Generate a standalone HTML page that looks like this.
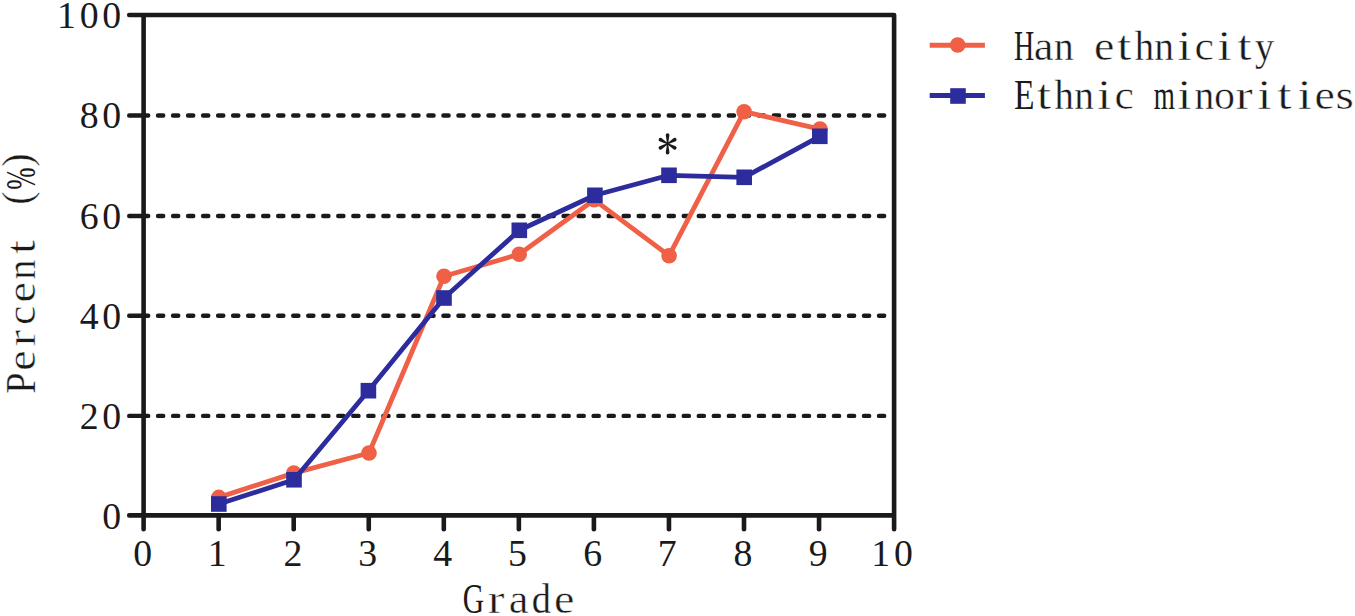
<!DOCTYPE html><html><head><meta charset="utf-8"><title>chart</title><style>html,body{margin:0;padding:0;background:#fff;width:1355px;height:616px;overflow:hidden}svg{display:block}</style></head><body>
<svg width="1355" height="616" viewBox="0 0 1355 616">
<rect width="1355" height="616" fill="#fff"/>
<line x1="143" y1="415.90" x2="888" y2="415.90" stroke="#1a1a1a" stroke-width="4.4" stroke-linecap="round" stroke-dasharray="5.2 9.82"/>
<line x1="143" y1="315.80" x2="888" y2="315.80" stroke="#1a1a1a" stroke-width="4.4" stroke-linecap="round" stroke-dasharray="5.2 9.82"/>
<line x1="143" y1="216.00" x2="888" y2="216.00" stroke="#1a1a1a" stroke-width="4.4" stroke-linecap="round" stroke-dasharray="5.2 9.82"/>
<line x1="143" y1="115.50" x2="888" y2="115.50" stroke="#1a1a1a" stroke-width="4.4" stroke-linecap="round" stroke-dasharray="5.2 9.82"/>
<path d="M129.2 15.00 H894.10 V529.2 M143.60 15.00 V529.2 M129.2 515.40 H894.10" fill="none" stroke="#1a1a1a" stroke-width="4.6" stroke-linecap="round" stroke-linejoin="round"/>
<line x1="129.2" y1="415.90" x2="143.60" y2="415.90" stroke="#1a1a1a" stroke-width="4.4" stroke-linecap="round"/>
<line x1="129.2" y1="315.80" x2="143.60" y2="315.80" stroke="#1a1a1a" stroke-width="4.4" stroke-linecap="round"/>
<line x1="129.2" y1="216.00" x2="143.60" y2="216.00" stroke="#1a1a1a" stroke-width="4.4" stroke-linecap="round"/>
<line x1="129.2" y1="115.50" x2="143.60" y2="115.50" stroke="#1a1a1a" stroke-width="4.4" stroke-linecap="round"/>
<line x1="218.65" y1="515.40" x2="218.65" y2="529.2" stroke="#1a1a1a" stroke-width="4.6" stroke-linecap="round"/>
<line x1="293.70" y1="515.40" x2="293.70" y2="529.2" stroke="#1a1a1a" stroke-width="4.6" stroke-linecap="round"/>
<line x1="368.75" y1="515.40" x2="368.75" y2="529.2" stroke="#1a1a1a" stroke-width="4.6" stroke-linecap="round"/>
<line x1="443.80" y1="515.40" x2="443.80" y2="529.2" stroke="#1a1a1a" stroke-width="4.6" stroke-linecap="round"/>
<line x1="518.85" y1="515.40" x2="518.85" y2="529.2" stroke="#1a1a1a" stroke-width="4.6" stroke-linecap="round"/>
<line x1="593.90" y1="515.40" x2="593.90" y2="529.2" stroke="#1a1a1a" stroke-width="4.6" stroke-linecap="round"/>
<line x1="668.95" y1="515.40" x2="668.95" y2="529.2" stroke="#1a1a1a" stroke-width="4.6" stroke-linecap="round"/>
<line x1="744.00" y1="515.40" x2="744.00" y2="529.2" stroke="#1a1a1a" stroke-width="4.6" stroke-linecap="round"/>
<line x1="819.05" y1="515.40" x2="819.05" y2="529.2" stroke="#1a1a1a" stroke-width="4.6" stroke-linecap="round"/>
<text x="102.34" y="529.00" font-family="Liberation Serif, serif" font-size="37.8" fill="#1a1a1a">0</text>
<text x="79.64 102.34" y="428.80" font-family="Liberation Serif, serif" font-size="37.8" fill="#1a1a1a">20</text>
<text x="79.64 102.34" y="328.70" font-family="Liberation Serif, serif" font-size="37.8" fill="#1a1a1a">40</text>
<text x="79.64 102.34" y="228.90" font-family="Liberation Serif, serif" font-size="37.8" fill="#1a1a1a">60</text>
<text x="79.64 102.34" y="128.40" font-family="Liberation Serif, serif" font-size="37.8" fill="#1a1a1a">80</text>
<text x="56.94 79.64 102.34" y="27.90" font-family="Liberation Serif, serif" font-size="37.8" fill="#1a1a1a">100</text>
<text x="133.15" y="566.30" font-family="Liberation Serif, serif" font-size="37.8" fill="#1a1a1a">0</text>
<text x="207.67" y="566.30" font-family="Liberation Serif, serif" font-size="37.8" fill="#1a1a1a">1</text>
<text x="283.46" y="566.30" font-family="Liberation Serif, serif" font-size="37.8" fill="#1a1a1a">2</text>
<text x="358.13" y="566.30" font-family="Liberation Serif, serif" font-size="37.8" fill="#1a1a1a">3</text>
<text x="433.28" y="566.30" font-family="Liberation Serif, serif" font-size="37.8" fill="#1a1a1a">4</text>
<text x="508.04" y="566.30" font-family="Liberation Serif, serif" font-size="37.8" fill="#1a1a1a">5</text>
<text x="583.20" y="566.30" font-family="Liberation Serif, serif" font-size="37.8" fill="#1a1a1a">6</text>
<text x="657.80" y="566.30" font-family="Liberation Serif, serif" font-size="37.8" fill="#1a1a1a">7</text>
<text x="733.55" y="566.30" font-family="Liberation Serif, serif" font-size="37.8" fill="#1a1a1a">8</text>
<text x="808.77" y="566.30" font-family="Liberation Serif, serif" font-size="37.8" fill="#1a1a1a">9</text>
<text x="871.36 894.06" y="566.30" font-family="Liberation Serif, serif" font-size="37.8" fill="#1a1a1a">10</text>
<g font-family="Liberation Serif, serif" font-size="42.6" fill="#1a1a1a" stroke="#fff" stroke-width="0">
<text transform="translate(1024.00 59.50) scale(0.657 1)" x="-15.37" y="0" font-size="42.6">H</text>
<text transform="translate(1044.05 59.50) scale(1.046 1)" x="-9.91" y="0" font-size="42.6" stroke="#fff" stroke-width="0.50">a</text>
<text transform="translate(1064.10 59.50) scale(0.925 1)" x="-10.82" y="0" font-size="42.6" stroke="#fff" stroke-width="0.40">n</text>
<text transform="translate(1104.20 59.50) scale(1.078 1)" x="-9.55" y="0" font-size="42.6" stroke="#fff" stroke-width="0.50">e</text>
<text transform="translate(1124.25 59.50) scale(1.220 1)" x="-6.00" y="0" font-size="42.6" stroke="#fff" stroke-width="0.50">t</text>
<text transform="translate(1144.30 59.50) scale(0.905 1)" x="-10.58" y="0" font-size="42.6" stroke="#fff" stroke-width="0.32">h</text>
<text transform="translate(1164.35 59.50) scale(0.925 1)" x="-10.82" y="0" font-size="42.6" stroke="#fff" stroke-width="0.40">n</text>
<text transform="translate(1184.40 59.50) scale(1.220 1)" x="-5.96" y="0" font-size="42.6" stroke="#fff" stroke-width="0.50">i</text>
<text transform="translate(1204.45 59.50) scale(1.027 1)" x="-9.61" y="0" font-size="42.6" stroke="#fff" stroke-width="0.50">c</text>
<text transform="translate(1224.50 59.50) scale(1.220 1)" x="-5.96" y="0" font-size="42.6" stroke="#fff" stroke-width="0.50">i</text>
<text transform="translate(1244.55 59.50) scale(1.220 1)" x="-6.00" y="0" font-size="42.6" stroke="#fff" stroke-width="0.50">t</text>
<text transform="translate(1264.60 59.50) scale(0.897 1)" x="-10.83" y="0" font-size="42.6" stroke="#fff" stroke-width="0.29">y</text>
<text transform="translate(1024.00 109.20) scale(0.789 1)" x="-12.56" y="0" font-size="42.6">E</text>
<text transform="translate(1044.05 109.20) scale(1.220 1)" x="-6.00" y="0" font-size="42.6" stroke="#fff" stroke-width="0.50">t</text>
<text transform="translate(1064.10 109.20) scale(0.905 1)" x="-10.58" y="0" font-size="42.6" stroke="#fff" stroke-width="0.32">h</text>
<text transform="translate(1084.15 109.20) scale(0.925 1)" x="-10.82" y="0" font-size="42.6" stroke="#fff" stroke-width="0.40">n</text>
<text transform="translate(1104.20 109.20) scale(1.220 1)" x="-5.96" y="0" font-size="42.6" stroke="#fff" stroke-width="0.50">i</text>
<text transform="translate(1124.25 109.20) scale(1.027 1)" x="-9.61" y="0" font-size="42.6" stroke="#fff" stroke-width="0.50">c</text>
<text transform="translate(1164.35 109.20) scale(0.637 1)" x="-16.68" y="0" font-size="42.6">m</text>
<text transform="translate(1184.40 109.20) scale(1.220 1)" x="-5.96" y="0" font-size="42.6" stroke="#fff" stroke-width="0.50">i</text>
<text transform="translate(1204.45 109.20) scale(0.925 1)" x="-10.82" y="0" font-size="42.6" stroke="#fff" stroke-width="0.40">n</text>
<text transform="translate(1224.50 109.20) scale(0.986 1)" x="-10.65" y="0" font-size="42.6" stroke="#fff" stroke-width="0.50">o</text>
<text transform="translate(1244.55 109.20) scale(1.220 1)" x="-7.33" y="0" font-size="42.6" stroke="#fff" stroke-width="0.50">r</text>
<text transform="translate(1264.60 109.20) scale(1.220 1)" x="-5.96" y="0" font-size="42.6" stroke="#fff" stroke-width="0.50">i</text>
<text transform="translate(1284.65 109.20) scale(1.220 1)" x="-6.00" y="0" font-size="42.6" stroke="#fff" stroke-width="0.50">t</text>
<text transform="translate(1304.70 109.20) scale(1.220 1)" x="-5.96" y="0" font-size="42.6" stroke="#fff" stroke-width="0.50">i</text>
<text transform="translate(1324.75 109.20) scale(1.078 1)" x="-9.55" y="0" font-size="42.6" stroke="#fff" stroke-width="0.50">e</text>
<text transform="translate(1344.80 109.20) scale(1.106 1)" x="-8.39" y="0" font-size="42.6" stroke="#fff" stroke-width="0.50">s</text>
<text transform="translate(473.60 612.90) scale(0.715 1)" x="-15.11" y="0" font-size="41.3">G</text>
<text transform="translate(496.30 612.90) scale(1.220 1)" x="-7.11" y="0" font-size="41.3" stroke="#fff" stroke-width="0.50">r</text>
<text transform="translate(519.00 612.90) scale(1.079 1)" x="-9.61" y="0" font-size="41.3" stroke="#fff" stroke-width="0.50">a</text>
<text transform="translate(541.70 612.90) scale(0.927 1)" x="-10.82" y="0" font-size="41.3" stroke="#fff" stroke-width="0.29">d</text>
<text transform="translate(564.40 612.90) scale(1.112 1)" x="-9.26" y="0" font-size="41.3" stroke="#fff" stroke-width="0.50">e</text>
</g>
<g font-family="Liberation Serif, serif" font-size="42.6" fill="#1a1a1a" stroke="#fff" stroke-width="0" transform="translate(34.8 0) rotate(-90)">
<text transform="translate(-383.20 0.00) scale(0.914 1)" x="-11.25" y="0" font-size="41.3" stroke="#fff" stroke-width="0.24">P</text>
<text transform="translate(-360.48 0.00) scale(1.112 1)" x="-9.26" y="0" font-size="41.3" stroke="#fff" stroke-width="0.50">e</text>
<text transform="translate(-337.76 0.00) scale(1.220 1)" x="-7.11" y="0" font-size="41.3" stroke="#fff" stroke-width="0.50">r</text>
<text transform="translate(-315.04 0.00) scale(1.059 1)" x="-9.32" y="0" font-size="41.3" stroke="#fff" stroke-width="0.50">c</text>
<text transform="translate(-292.32 0.00) scale(1.112 1)" x="-9.26" y="0" font-size="41.3" stroke="#fff" stroke-width="0.50">e</text>
<text transform="translate(-269.60 0.00) scale(0.954 1)" x="-10.49" y="0" font-size="41.3" stroke="#fff" stroke-width="0.39">n</text>
<text transform="translate(-246.88 0.00) scale(1.220 1)" x="-5.82" y="0" font-size="41.3" stroke="#fff" stroke-width="0.50">t</text>
<text transform="translate(-197.94 -3.80) scale(0.971 1)" x="-7.12" y="0" font-size="41.3" stroke="#fff" stroke-width="0.44">(</text>
<text transform="translate(-178.72 0.00) scale(0.649 1)" x="-17.20" y="0" font-size="41.3">%</text>
<text transform="translate(-160.30 -3.80) scale(0.971 1)" x="-6.63" y="0" font-size="41.3" stroke="#fff" stroke-width="0.44">)</text>
</g>
<polyline points="218.80,497.40 293.80,473.10 369.00,453.00 444.00,276.30 519.20,254.30 594.30,199.80 669.10,255.70 744.10,111.70 820.00,129.10" fill="none" stroke="#EF6047" stroke-width="4.8" stroke-linejoin="round"/>
<circle cx="218.80" cy="497.40" r="7.8" fill="#EF6047"/>
<circle cx="293.80" cy="473.10" r="7.8" fill="#EF6047"/>
<circle cx="369.00" cy="453.00" r="7.8" fill="#EF6047"/>
<circle cx="444.00" cy="276.30" r="7.8" fill="#EF6047"/>
<circle cx="519.20" cy="254.30" r="7.8" fill="#EF6047"/>
<circle cx="594.30" cy="199.80" r="7.8" fill="#EF6047"/>
<circle cx="669.10" cy="255.70" r="7.8" fill="#EF6047"/>
<circle cx="744.10" cy="111.70" r="7.8" fill="#EF6047"/>
<circle cx="820.00" cy="129.10" r="7.8" fill="#EF6047"/>
<polyline points="218.80,504.00 294.00,479.75 368.40,390.70 444.00,298.00 519.30,230.30 594.90,195.30 669.00,175.30 744.20,177.30 819.80,136.30" fill="none" stroke="#2C2C9C" stroke-width="4.8" stroke-linejoin="round"/>
<rect x="211.00" y="496.20" width="15.6" height="15.6" fill="#2C2C9C"/>
<rect x="286.20" y="471.95" width="15.6" height="15.6" fill="#2C2C9C"/>
<rect x="360.60" y="382.90" width="15.6" height="15.6" fill="#2C2C9C"/>
<rect x="436.20" y="290.20" width="15.6" height="15.6" fill="#2C2C9C"/>
<rect x="511.50" y="222.50" width="15.6" height="15.6" fill="#2C2C9C"/>
<rect x="587.10" y="187.50" width="15.6" height="15.6" fill="#2C2C9C"/>
<rect x="661.20" y="167.50" width="15.6" height="15.6" fill="#2C2C9C"/>
<rect x="736.40" y="169.50" width="15.6" height="15.6" fill="#2C2C9C"/>
<rect x="812.00" y="128.50" width="15.6" height="15.6" fill="#2C2C9C"/>
<path d="M668.15 143.80 L669.45 135.05 A1.85 1.85 0 0 0 665.75 135.05 L667.05 143.80 Z M667.05 143.80 L665.75 152.55 A1.85 1.85 0 0 0 669.45 152.55 L668.15 143.80 Z M667.88 144.28 L675.67 141.28 A1.85 1.85 0 0 0 673.82 138.07 L667.33 143.32 Z M667.88 143.32 L661.38 138.07 A1.85 1.85 0 0 0 659.53 141.28 L667.33 144.28 Z M667.33 143.32 L659.53 146.32 A1.85 1.85 0 0 0 661.38 149.53 L667.88 144.28 Z M667.33 144.28 L673.82 149.53 A1.85 1.85 0 0 0 675.67 146.32 L667.88 143.32 Z" fill="#1a1a1a"/>
<circle cx="667.6" cy="143.8" r="1.3" fill="#1a1a1a"/>
<line x1="929.7" y1="45.2" x2="984.9" y2="45.2" stroke="#EF6047" stroke-width="5"/>
<circle cx="957.7" cy="45" r="7.8" fill="#EF6047"/>
<line x1="929.7" y1="95.5" x2="984.9" y2="95.5" stroke="#2C2C9C" stroke-width="5"/>
<rect x="950.2" y="88.2" width="15.6" height="15.6" fill="#2C2C9C"/>
</svg></body></html>
